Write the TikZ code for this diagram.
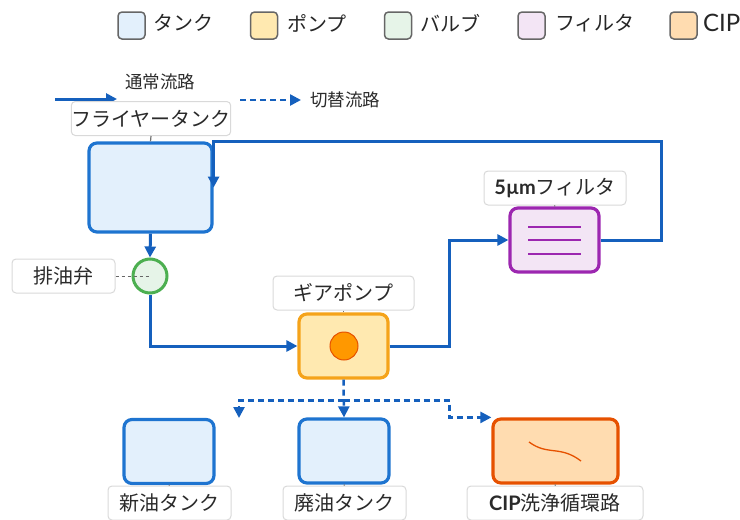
\documentclass[tikz,border=0pt]{standalone}
\usepackage{fontspec}
\setmainfont{Noto Sans CJK JP}
\newfontfamily\lato{Lato}
\usetikzlibrary{arrows.meta,calc}
\definecolor{flowblue}{HTML}{1560BD}
\definecolor{tankline}{HTML}{1E74D0}
\definecolor{tankfill}{HTML}{E3F0FC}
\definecolor{valveline}{HTML}{4CAF50}
\definecolor{valvefill}{HTML}{E6F4E8}
\definecolor{pumpline}{HTML}{F5A31A}
\definecolor{pumpfill}{HTML}{FFE9B0}
\definecolor{pumpdot}{HTML}{FF9800}
\definecolor{filtline}{HTML}{9C27B0}
\definecolor{filtfill}{HTML}{F3E5F5}
\definecolor{cipline}{HTML}{E65100}
\definecolor{cipfill}{HTML}{FFDCB0}
\definecolor{txt}{HTML}{2A2A2A}
\tikzset{
  unit/.style={rectangle, rounded corners=8pt, line width=3.2pt, inner sep=0pt},
  tankbox/.style={unit, draw=tankline, fill=tankfill},
  tag/.style={rectangle, rounded corners=4pt, draw=black!15, fill=white, line width=1pt,
    minimum height=34pt, inner sep=0pt, text=txt, font=\fontsize{20}{22}\selectfont},
  key/.style={rectangle, rounded corners=4pt, draw=black!60, line width=1.5pt,
    minimum size=27pt, inner sep=0pt},
  keytext/.style={anchor=west, inner sep=0pt, text=black!85, font=\fontsize{20}{22}\selectfont},
  flow/.style={draw=flowblue, line width=3pt, -{Triangle[length=11pt,width=11pt]}},
  alt/.style={draw=flowblue, line width=2.5pt, dash pattern=on 6pt off 4pt},
  tick/.style={draw=black!55, line width=1.2pt}
}
\begin{document}
\begin{tikzpicture}[x=1pt,y=-1pt]
    \useasboundingbox (0,0) rectangle (740,520);
    % Legende
    \node[key, fill=tankfill] (k1) at (131.5,25.5) {};
    \node[keytext] at (153,23) {タンク};
    \node[key, fill=pumpfill] (k2) at (264,25.5) {};
    \node[keytext] at (287,23) {ポンプ};
    \node[key, fill=valvefill] (k3) at (398,25.5) {};
    \node[keytext] at (420,23) {バルブ};
    \node[key, fill=filtfill] (k4) at (531.5,25.5) {};
    \node[keytext] at (555,23) {フィルタ};
    \node[key, fill=cipfill] (k5) at (683.5,25.5) {};
    \node[keytext, font=\lato\fontsize{24}{26}\selectfont] at (703,23) {CIP};
    % Linienarten
    \coordinate (n0) at (55,99);
    \coordinate (n1) at (117,99);
    \draw[flow] (n0) -- (n1);
    \node[inner sep=0pt, text=txt, font=\fontsize{17.5}{20}\selectfont] at (160,82) {通常流路};
    \coordinate (a0) at (240,100);
    \coordinate (a1) at (301,100);
    \draw[alt, -{Triangle[length=11pt,width=11pt]}] (a0) -- (a1);
    \node[anchor=west, inner sep=0pt, text=txt, font=\fontsize{17.5}{20}\selectfont] at (310,100) {切替流路};
    % Fritteuse
    \node[tankbox, minimum width=123pt, minimum height=89pt] (ft) at (150.5,187.5) {};
    \node[tag, minimum width=158pt] (ftl) at (151,118.5) {フライヤータンク};
    \draw[tick] (ftl.south) -- (ft.north);
    % Ventil
    \node[circle, draw=valveline, fill=valvefill, line width=3pt, minimum size=34pt, inner sep=0pt] (vlv) at (150,276) {};
    \node[tag, minimum width=103pt] (vll) at (63.5,276) {排油弁};
    % Pumpe
    \node[unit, draw=pumpline, fill=pumpfill, minimum width=89pt, minimum height=64pt] (pmp) at (343.5,346) {};
    \node[circle, draw=cipline, fill=pumpdot, line width=1pt, minimum size=28pt] (pdot) at (344,346) {};
    \node[tag, minimum width=141pt] (pml) at (343.5,293) {ギアポンプ};
    \draw[tick] (pml.south) -- (pmp.north);
    % Filter
    \node[unit, draw=filtline, fill=filtfill, minimum width=89pt, minimum height=64pt] (flt) at (554.5,240) {};
    \draw[filtline, line width=1.3pt] (528,227) -- (581,227) (528,240) -- (581,240) (528,254) -- (581,254);
    \node[tag, minimum width=142pt] (fll) at (555,188) {{\lato\bfseries 5µm}フィルタ};
    \draw[tick] (fll.south) -- (flt.north);
    % Zieltanks
    \node[tankbox, minimum width=90pt, minimum height=64pt] (nt) at (169,451.5) {};
    \node[tag, minimum width=123pt] (ntl) at (169.5,503) {新油タンク};
    \draw[tick] (nt.south) -- (ntl.north);
    \node[tankbox, minimum width=90pt, minimum height=64pt] (wt) at (344,451) {};
    \node[tag, minimum width=123pt] (wtl) at (344.5,503) {廃油タンク};
    \draw[tick] (wt.south) -- (wtl.north);
    \node[unit, draw=cipline, fill=cipfill, minimum width=125pt, minimum height=64pt] (cip) at (555.5,451) {};
    \draw[cipline, line width=1.3pt] (529,442) .. controls (548,456) and (560,445) .. (581,461);
    \node[tag, minimum width=176pt] (cipl) at (555,503) {{\lato\bfseries CIP}洗浄循環路};
    \draw[tick] (cip.south) -- (cipl.north);
    % Normalbetrieb
    \draw[flow] (ft.south) -- (vlv.north);
    \draw[flow] (vlv.south) |- (pmp.west);
    \draw[flow] (pmp.east) -- ++(60,0) |- (flt.west);
    \draw[flow] (flt.east) -- ++(61,0) |- (ft.north east) -- (ft.east);
    \draw[black!60, line width=1pt, dash pattern=on 3pt off 3pt] (vll.east) -- (vlv.center);
    % Umschaltung
    \coordinate (br) at ($(pmp.south)+(0,21)$);
    \coordinate (nte) at (239,418);
    \draw[alt, -{Triangle[length=11pt,width=11pt]}] (pmp.south) -- (wt.north);
    \draw[alt, -{Triangle[length=11pt,width=11pt]}] (br) -| (nte);
    \draw[alt, -{Triangle[length=11pt,width=11pt]}] (br) -- ++(106,0) |- (cip.north west);
\end{tikzpicture}
\end{document}
